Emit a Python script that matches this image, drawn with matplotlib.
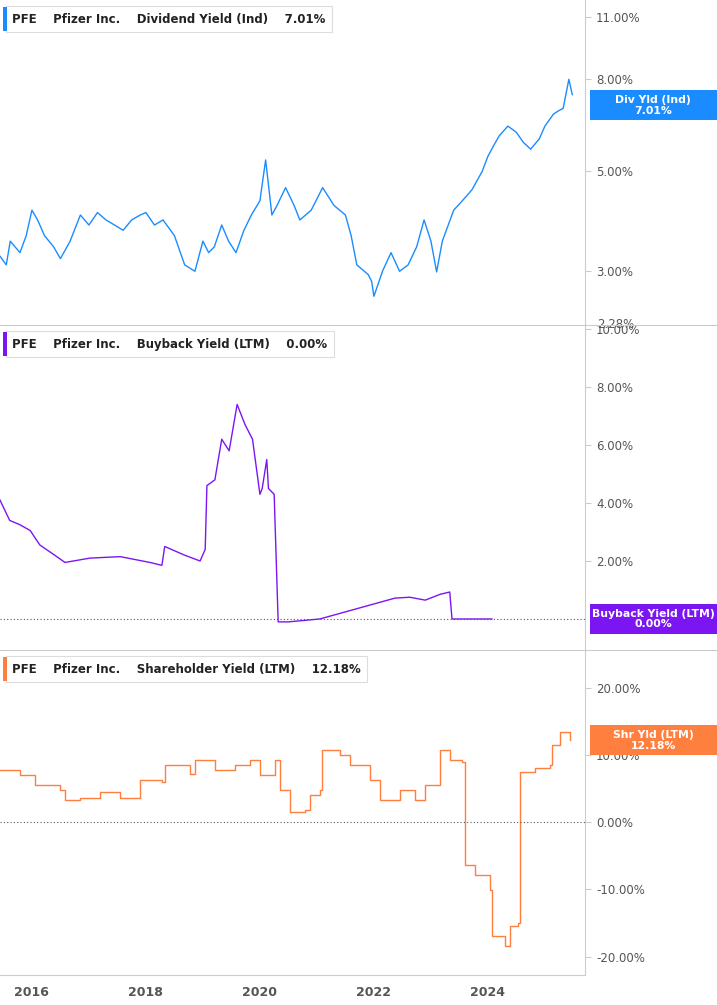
import matplotlib
matplotlib.use("Agg")
import matplotlib.pyplot as plt
from matplotlib.patches import Rectangle
from matplotlib.ticker import FixedLocator, NullLocator

# --- data (decimal year, percent) ---
div_years = [2015.44, 2015.55, 2015.62, 2015.79, 2015.9, 2016.0, 2016.1, 2016.22, 2016.38, 2016.5,
             2016.67, 2016.85, 2017.0, 2017.15, 2017.3, 2017.45, 2017.6, 2017.75, 2017.9, 2018.0,
             2018.15, 2018.3, 2018.5, 2018.68, 2018.86, 2019.0, 2019.1, 2019.2, 2019.33, 2019.45,
             2019.58, 2019.72, 2019.85, 2020.0, 2020.1, 2020.21, 2020.3, 2020.45, 2020.6, 2020.7,
             2020.9, 2021.1, 2021.3, 2021.5, 2021.6, 2021.7, 2021.9, 2021.96, 2022.0, 2022.15,
             2022.3, 2022.45, 2022.6, 2022.75, 2022.88, 2023.0, 2023.1, 2023.2, 2023.4, 2023.55,
             2023.72, 2023.9, 2024.0, 2024.1, 2024.2, 2024.35, 2024.5, 2024.62, 2024.75, 2024.9,
             2025.0, 2025.15, 2025.23, 2025.32, 2025.42, 2025.48]
div_values = [3.24, 3.1, 3.5, 3.3, 3.6, 4.1, 3.9, 3.6, 3.4, 3.2, 3.5, 4.0, 3.8, 4.05, 3.9, 3.8,
              3.7, 3.9, 4.0, 4.05, 3.8, 3.9, 3.6, 3.1, 3.0, 3.5, 3.3, 3.4, 3.8, 3.5,
              3.3, 3.7, 4.0, 4.3, 5.3, 4.0, 4.2, 4.6, 4.2, 3.9, 4.1, 4.6, 4.2, 4.0, 3.6,
              3.1, 2.95, 2.85, 2.64, 3.0, 3.3, 3.0, 3.1, 3.4, 3.9, 3.5, 2.99, 3.5, 4.1, 4.3,
              4.55, 5.0, 5.4, 5.7, 6.0, 6.3, 6.1, 5.8, 5.6, 5.9, 6.3, 6.7, 6.8, 6.9, 8.0, 7.4]
div_last = 7.01

bb_years = [2015.44, 2015.61, 2015.79, 2015.97, 2016.14, 2016.4, 2016.58, 2017.02, 2017.55, 2018.07,
            2018.28, 2018.33, 2018.68, 2018.95, 2019.04, 2019.07, 2019.21, 2019.33, 2019.46, 2019.6,
            2019.74, 2019.87, 2020.0, 2020.04, 2020.12, 2020.15, 2020.25, 2020.32, 2020.5, 2021.05,
            2022.37, 2022.63, 2022.9, 2023.16, 2023.33, 2023.37, 2024.07]
bb_values = [4.1, 3.4, 3.25, 3.05, 2.55, 2.2, 1.95, 2.1, 2.15, 1.95, 1.85, 2.5, 2.2, 2.0, 2.4,
             4.6, 4.8, 6.2, 5.8, 7.4, 6.7, 6.2, 4.3, 4.5, 5.5, 4.5, 4.3, -0.1, -0.1, 0.0,
             0.72, 0.75, 0.65, 0.85, 0.93, 0.0, 0.0]
bb_last = 0.00

shy_years = [2015.44, 2015.79, 2016.05, 2016.49, 2016.58, 2016.84, 2017.19, 2017.54, 2017.89, 2018.28,
             2018.33, 2018.77, 2018.86, 2019.21, 2019.56, 2019.82, 2020.0, 2020.26, 2020.35, 2020.53,
             2020.79, 2020.88, 2021.05, 2021.09, 2021.4, 2021.58, 2021.93, 2022.1, 2022.46, 2022.72,
             2022.9, 2023.16, 2023.33, 2023.54, 2023.59, 2023.77, 2024.03, 2024.07, 2024.3, 2024.39,
             2024.53, 2024.56, 2024.83, 2025.09, 2025.12, 2025.26, 2025.44]
shy_values = [7.8, 7.0, 5.5, 4.8, 3.3, 3.6, 4.5, 3.6, 6.3, 6.0, 8.5, 7.2, 9.3, 7.8, 8.5, 9.3,
              7.0, 9.3, 4.8, 1.5, 1.8, 4.0, 4.8, 10.7, 10.0, 8.5, 6.3, 3.3, 4.8, 3.3, 5.5,
              10.7, 9.3, 9.0, -6.4, -7.9, -10.1, -16.9, -18.4, -15.4, -15.0, 7.5, 8.0, 8.5,
              11.5, 13.4, 12.2]
shy_last = 12.18

YEAR_TICKS = [2016, 2018, 2020, 2022, 2024]

W, H = 717, 1005
fig = plt.figure(figsize=(W / 100, H / 100), dpi=100)
XL = (2015.44, 2015.44 + 585 / 57)
GRAY = "#cccccc"


def make_ax(top, bottom):
    ax = fig.add_axes([0, 1 - bottom / H, 585 / W, (bottom - top) / H])
    ax.set_xlim(XL)
    for s in ["left", "top", "bottom"]:
        ax.spines[s].set_visible(False)
    ax.spines["right"].set_color(GRAY)
    ax.yaxis.tick_right()
    ax.tick_params(axis="y", length=4, color=GRAY, labelsize=8.5, labelcolor="#555555", pad=4)
    ax.xaxis.set_major_locator(NullLocator())
    return ax


def header(top, name, value, color):
    # box top at top+6 px, height ~26 px
    y = 1 - (top + 19) / H
    fig.text(12 / W, y, f"PFE    Pfizer Inc.    {name}    {value}", fontsize=8.5,
             fontweight="bold", color="#222222", va="center", ha="left",
             bbox=dict(boxstyle="square,pad=0.55", fc="white", ec="#dddddd", lw=0.8), zorder=5)
    fig.add_artist(Rectangle((3 / W, 1 - (top + 31) / H), 4 / W, 24 / H,
                             transform=fig.transFigure, fc=color, ec="none", zorder=6))


def value_tag(ax, val, text, color):
    ypix = ax.transData.transform((XL[0], val))[1]
    fig.add_artist(Rectangle((590 / W, (ypix - 15) / H), 127 / W, 30 / H,
                             transform=fig.transFigure, fc=color, ec="none", zorder=6))
    fig.text(653 / W, ypix / H, text, fontsize=7.8, color="white", fontweight="bold",
             ha="center", va="center", linespacing=1.1, zorder=7)


# panel 1: dividend yield, log scale
c1 = "#1a8cff"
ax1 = make_ax(0, 325)
ax1.set_yscale("log")
ax1.set_ylim(2.28, 12.0)
ax1.plot(div_years, div_values, color=c1, lw=1)
ax1.yaxis.set_major_locator(FixedLocator([3, 5, 8, 11]))
ax1.yaxis.set_minor_locator(NullLocator())
ax1.set_yticklabels(["3.00%", "5.00%", "8.00%", "11.00%"])
ax1.text(1.02, 2.28, "2.28%", transform=ax1.get_yaxis_transform(), fontsize=8.5,
         color="#555555", va="center")
header(0, "Dividend Yield (Ind)", f"{div_last:.2f}%", c1)

# panel 2: buyback yield
c2 = "#7b16f2"
ax2 = make_ax(325, 650)
ax2.set_ylim(-1.07, 10.14)
ax2.plot(bb_years, bb_values, color=c2, lw=1)
ax2.axhline(0, color="#555555", lw=0.8, ls=(0, (1, 2)))
ax2.yaxis.set_major_locator(FixedLocator([2, 4, 6, 8, 10]))
ax2.set_yticklabels(["2.00%", "4.00%", "6.00%", "8.00%", "10.00%"])
header(325, "Buyback Yield (LTM)", f"{bb_last:.2f}%", c2)

# panel 3: shareholder yield
c3 = "#ff7f3f"
ax3 = make_ax(650, 975)
ax3.set_ylim(-22.75, 25.6)
ax3.plot(shy_years, shy_values, color=c3, lw=1, drawstyle="steps-post")
ax3.axhline(0, color="#555555", lw=0.8, ls=(0, (1, 2)))
ax3.yaxis.set_major_locator(FixedLocator([-20, -10, 0, 10, 20]))
ax3.set_yticklabels(["-20.00%", "-10.00%", "0.00%", "10.00%", "20.00%"])
header(650, "Shareholder Yield (LTM)", f"{shy_last:.2f}%", c3)

value_tag(ax1, div_last, f"Div Yld (Ind)\n{div_last:.2f}%", c1)
value_tag(ax2, bb_last, f"Buyback Yield (LTM)\n{bb_last:.2f}%", c2)
value_tag(ax3, shy_last, f"Shr Yld (LTM)\n{shy_last:.2f}%", c3)

# bottom year labels
ax3.set_xticks(YEAR_TICKS)
ax3.set_xticklabels([str(y) for y in YEAR_TICKS])
ax3.tick_params(axis="x", length=0, labelsize=9, labelcolor="#555555", pad=8)
for lab in ax3.get_xticklabels():
    lab.set_fontweight("bold")
ax3.spines["bottom"].set_visible(True)
ax3.spines["bottom"].set_color(GRAY)

# separators spanning full width
for yy in (325, 650):
    fig.add_artist(plt.Line2D([0, 1], [1 - yy / H] * 2, color=GRAY, lw=0.8))

fig.savefig("out.png", dpi=100)
